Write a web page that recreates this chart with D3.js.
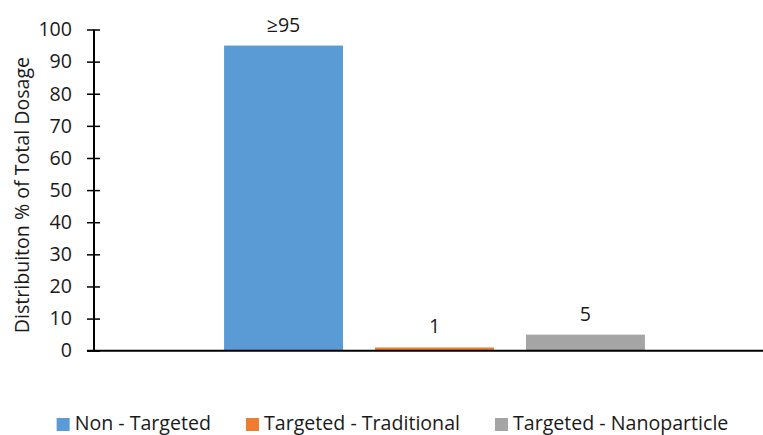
<!DOCTYPE html>
<html>
<head>
<meta charset="utf-8">
<script src="https://cdn.jsdelivr.net/npm/d3@7"></script>
<style>
  html, body { margin: 0; padding: 0; background: #fff; }
  svg { display: block; font-family: "Open Sans", "Noto Sans", sans-serif; }
</style>
</head>
<body>
<svg id="chart" width="763" height="435"></svg>
<script>
// Dosage distribution by delivery approach
const categories = ["Dosage"];
const seriesNames = ["Non - Targeted", "Targeted - Traditional", "Targeted - Nanoparticle"];
const seriesValues = [95, 1, 5];
const valueLabels = ["≥95", "1", "5"];
const seriesColors = ["#5B9BD5", "#ED7D31", "#A5A5A5"];
const yTicks = [0, 10, 20, 30, 40, 50, 60, 70, 80, 90, 100];

const svg = d3.select("#chart");
const W = 763, H = 435;
const plot = { left: 94, right: 775, top: 29.5, bottom: 350.7 };
const fontSize = 19.6;
const textColor = "#1a1a1a";

const y = d3.scaleLinear().domain([0, 100]).range([plot.bottom, plot.top]);

const x0 = d3.scaleBand().domain(categories).range([plot.left, plot.right])
  .paddingInner(0).paddingOuter(0.309);
const x1 = d3.scaleBand().domain(seriesNames).range([0, x0.bandwidth()])
  .paddingInner(0.212).paddingOuter(0);

const rows = seriesNames.map((s, i) => ({ series: s, value: seriesValues[i], label: valueLabels[i], color: seriesColors[i] }));

// bars with value labels
const g = svg.append("g");
categories.forEach(cat => {
  const cg = g.append("g").attr("transform", `translate(${x0(cat)},0)`);
  cg.selectAll("rect").data(rows).join("rect")
    .attr("x", d => x1(d.series))
    .attr("y", d => y(d.value))
    .attr("width", x1.bandwidth())
    .attr("height", d => y(0) - y(d.value))
    .attr("fill", d => d.color);
  cg.selectAll("text").data(rows).join("text")
    .attr("x", d => x1(d.series) + x1.bandwidth() / 2)
    .attr("y", d => y(d.value) - 14)
    .attr("text-anchor", "middle")
    .attr("font-size", fontSize)
    .attr("fill", textColor)
    .text(d => d.label);
});

// y axis
const yAxis = d3.axisLeft(y).tickValues(yTicks).tickSize(7).tickPadding(15);
const ya = svg.append("g").attr("transform", `translate(${plot.left},0)`).call(yAxis);
ya.attr("font-family", null).attr("font-size", null);
ya.select(".domain").attr("stroke", "#000").attr("stroke-width", 2)
  .attr("d", `M0,${plot.top}V${plot.bottom}`);
ya.selectAll(".tick line").attr("stroke", "#000").attr("stroke-width", 1.5)
  .attr("x1", -7).attr("x2", 6);
ya.selectAll(".tick text").attr("font-size", fontSize).attr("fill", textColor);

// x axis baseline
svg.append("line")
  .attr("x1", plot.left - 7).attr("x2", W)
  .attr("y1", y(0)).attr("y2", y(0))
  .attr("stroke", "#000").attr("stroke-width", 2);

// y axis title
svg.append("text")
  .attr("transform", `translate(29,${(plot.top + plot.bottom) / 2 + 5}) rotate(-90)`)
  .attr("text-anchor", "middle")
  .attr("font-size", fontSize)
  .attr("fill", textColor)
  .text("Distribuiton % of Total Dosage");

// legend
const legend = svg.append("g");
const items = legend.selectAll("g").data(rows).join("g");
items.append("rect").attr("width", 13).attr("height", 13).attr("y", -12)
  .attr("fill", d => d.color);
items.append("text").attr("x", 18).attr("y", 0)
  .attr("font-size", fontSize).attr("fill", textColor).text(d => d.series);
let cx = 0;
const gap = 35;
items.each(function () {
  const w = this.getBBox().width;
  d3.select(this).attr("transform", `translate(${cx},430)`);
  cx += w + gap;
});
const total = cx - gap;
legend.attr("transform", `translate(${392.5 - total / 2},0)`);
</script>
</body>
</html>
